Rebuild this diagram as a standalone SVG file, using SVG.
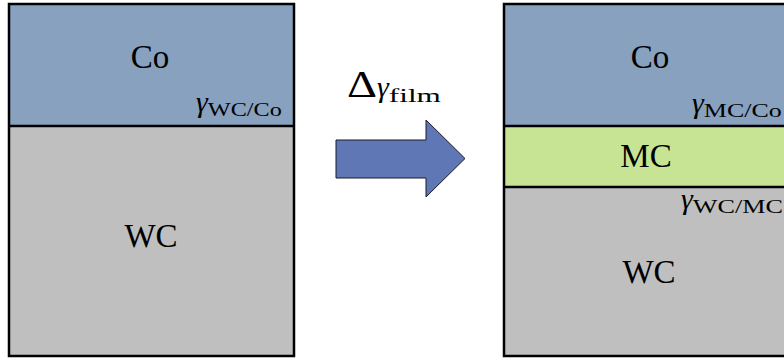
<svg xmlns="http://www.w3.org/2000/svg" width="784" height="358" viewBox="0 0 784 358">
  <style>
    .co { fill: #87a1bf; }
    .wc { fill: #bfbfbf; }
    .mc { fill: #c7e394; }
    .edge { fill: none; stroke: #000; stroke-width: 2.5; }
    .label { font-family: "Liberation Serif", "Times New Roman", serif; font-size: 33px; fill: #000; text-anchor: middle; }
    .gam { font-family: "Liberation Serif", "Times New Roman", serif; font-style: italic; font-size: 30px; fill: #000; }
    .sub { font-family: "Liberation Serif", "Times New Roman", serif; font-size: 18px; fill: #000; }
  </style>

  <rect width="784" height="358" fill="#fff"/>

  <!-- Initial state: Co over WC -->
  <g id="before">
    <rect class="co" x="9" y="4" width="285" height="122"/>
    <rect class="wc" x="9" y="126" width="285" height="230"/>
    <line class="edge" x1="9" y1="126" x2="294" y2="126"/>
    <rect class="edge" x="9" y="4" width="285" height="352"/>
    <text class="label" x="150" y="68">Co</text>
    <text class="label" x="151" y="247">WC</text>
    <text x="196" y="112"><tspan class="gam">γ</tspan><tspan class="sub" dy="4" textLength="74" lengthAdjust="spacingAndGlyphs">WC/Co</tspan></text>
  </g>

  <!-- Transition arrow -->
  <g id="arrow">
    <polygon points="336,140 426,140 426,120 465,158.5 426,197 426,178 336,178" fill="#5f77b5" stroke="#1a1a2a" stroke-width="1"/>
    <text x="347" y="97"><tspan font-family="Liberation Serif, Times New Roman, serif" font-size="38px" textLength="30" lengthAdjust="spacingAndGlyphs">Δ</tspan><tspan class="gam" font-size="34px">γ</tspan><tspan class="sub" font-size="25px" dy="5" textLength="52" lengthAdjust="spacingAndGlyphs">film</tspan></text>
  </g>

  <!-- Final state: Co / MC film / WC -->
  <g id="after">
    <rect class="co" x="504" y="4" width="300" height="122"/>
    <rect class="mc" x="504" y="126" width="300" height="61"/>
    <rect class="wc" x="504" y="187" width="300" height="169"/>
    <line class="edge" x1="504" y1="126" x2="804" y2="126"/>
    <line class="edge" x1="504" y1="187" x2="804" y2="187"/>
    <rect class="edge" x="504" y="4" width="300" height="352"/>
    <text class="label" x="650" y="68">Co</text>
    <text class="label" x="646" y="167">MC</text>
    <text class="label" x="649" y="283">WC</text>
    <text x="692" y="113"><tspan class="gam">γ</tspan><tspan class="sub" dy="4" textLength="78" lengthAdjust="spacingAndGlyphs">MC/Co</tspan></text>
    <text x="681" y="209"><tspan class="gam">γ</tspan><tspan class="sub" dy="4" textLength="90" lengthAdjust="spacingAndGlyphs">WC/MC</tspan></text>
  </g>
</svg>
